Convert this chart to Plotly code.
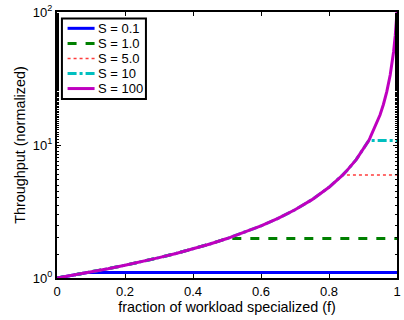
import plotly.graph_objects as go

# fraction of workload specialized (f) and throughput of the S = 100 curve
f_curve = [0.0, 0.05, 0.1, 0.15, 0.2, 0.25, 0.3, 0.35, 0.4, 0.45, 0.5, 0.55, 0.6,
           0.65, 0.7, 0.75, 0.8, 0.84, 0.85, 0.88, 0.9, 0.917, 0.92, 0.94, 0.95,
           0.96, 0.97, 0.98, 0.985, 0.99, 0.995, 1.0]
y_curve = [1.0, 1.052, 1.110, 1.174, 1.247, 1.329, 1.422, 1.530, 1.656, 1.803, 1.980,
           2.195, 2.463, 2.805, 3.257, 3.883, 4.808, 5.938, 6.309, 7.764, 9.174, 10.8,
           11.21, 14.41, 16.81, 20.16, 25.19, 33.56, 40.24, 50.25, 66.89, 100.0]

# plateau of each S series: (f where it leaves the curve, plateau value)
series_names = ["S = 0.1", "S = 1.0", "S = 5.0", "S = 10", "S = 100"]
plateau_f = [0.09, 0.5, 0.84, 0.917, 1.0]
plateau_y = [1.1, 1.98, 5.938, 10.8, 100.0]

colors = ["rgb(0,0,255)", "rgb(0,128,0)", "rgb(255,60,60)", "rgb(0,191,191)", "rgb(191,0,191)"]
dashes = ["solid", "dash", "dot", "dashdot", "solid"]
widths = [3, 3, 1.5, 3, 3]

FONT = "Liberation Sans, Arial, sans-serif"

fig = go.Figure()
for name, pf, py, c, d, w in zip(series_names, plateau_f, plateau_y, colors, dashes, widths):
    xs = [x for x in f_curve if x < pf]
    ys = [y for x, y in zip(f_curve, y_curve) if x < pf]
    xs = xs + [pf, 1.0]
    ys = ys + [py, py]
    fig.add_trace(go.Scatter(x=xs, y=ys, mode="lines", name=name, showlegend=False,
                             line=dict(color=c, dash=d, width=w)))

# legend box (drawn manually to match the compact MATLAB legend)
leg_x0, leg_x1, leg_y0, leg_y1 = 0.0145, 0.2616, 0.6728, 0.9754
line_x0, line_x1, text_x = 0.0311, 0.1105, 0.1154
entry_top, entry_step = 0.9386, 0.0566
fig.add_shape(type="rect", xref="paper", yref="paper", x0=leg_x0, x1=leg_x1,
              y0=leg_y0, y1=leg_y1, line=dict(color="black", width=2),
              fillcolor="white", layer="above")
for i, (name, c, d, w) in enumerate(zip(series_names, colors, dashes, widths)):
    yy = entry_top - i * entry_step
    fig.add_shape(type="line", xref="paper", yref="paper", x0=line_x0, x1=line_x1,
                  y0=yy, y1=yy, line=dict(color=c, dash=d, width=w), layer="above")
    fig.add_annotation(xref="paper", yref="paper", x=text_x, y=yy, text=name,
                       showarrow=False, xanchor="left", yanchor="middle",
                       font=dict(family=FONT, size=13, color="black"))

fig.update_layout(
    width=404, height=320,
    margin=dict(l=57, r=3, t=6, b=42),
    paper_bgcolor="white", plot_bgcolor="white",
    font=dict(family=FONT, size=12, color="black"),
    showlegend=False,
)
fig.update_xaxes(range=[0, 1], tickvals=[0, 0.2, 0.4, 0.6, 0.8, 1],
                 ticktext=["0", "0.2", "0.4", "0.6", "0.8", "1"],
                 ticks="inside", ticklen=4, tickcolor="black",
                 showline=True, linecolor="black", linewidth=2, mirror="ticks",
                 showgrid=False, zeroline=False, ticklabeloverflow="allow",
                 title=dict(text="fraction of workload specialized (f)", standoff=2,
                            font=dict(size=14.4)),
                 tickfont=dict(size=13))
fig.update_yaxes(type="log", range=[0, 2], tickvals=[1, 10, 100],
                 ticktext=["10<sup>0</sup>", "10<sup>1</sup>", "10<sup>2</sup>"],
                 ticks="inside", ticklen=4, tickcolor="black",
                 minor=dict(ticks="inside", ticklen=2, tickcolor="black", showgrid=False),
                 showline=True, linecolor="black", linewidth=2, mirror="ticks",
                 showgrid=False, zeroline=False, ticklabeloverflow="allow",
                 title=dict(text="Throughput (normalized)", standoff=4, font=dict(size=14.4)),
                 tickfont=dict(size=13))
fig.write_html("out.html")
